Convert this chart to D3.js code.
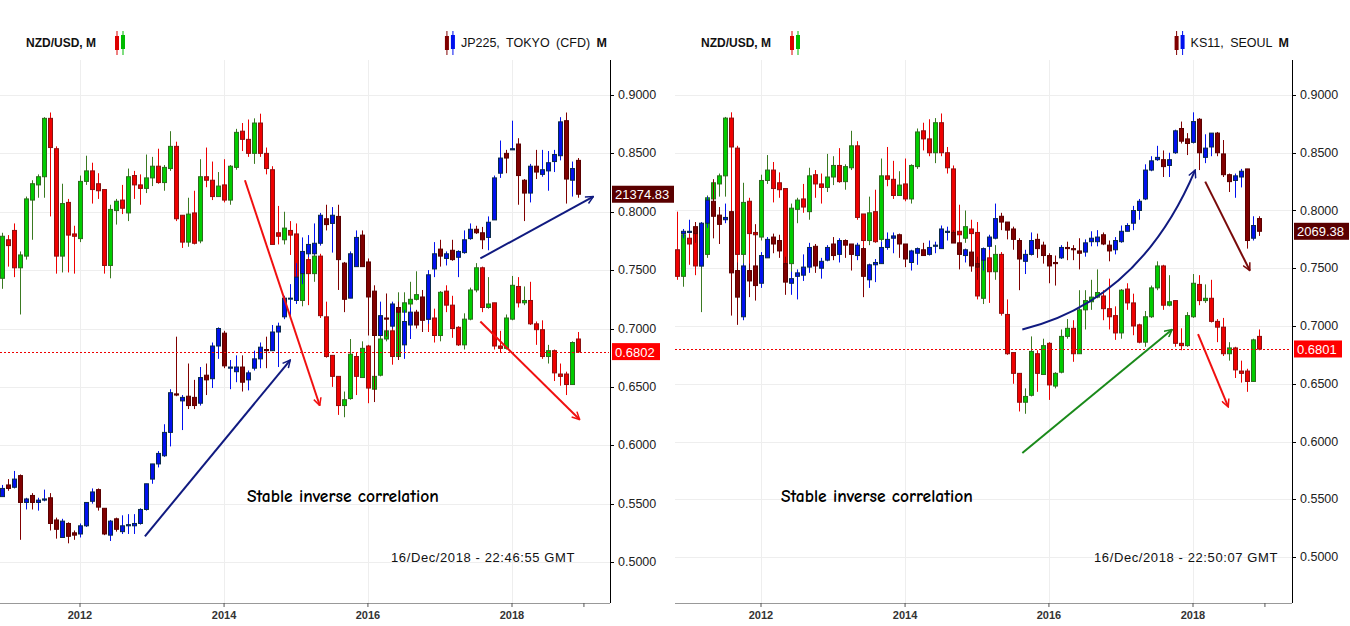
<!DOCTYPE html>
<html><head><meta charset="utf-8">
<script src="https://cdn.jsdelivr.net/npm/d3@7"></script>
<style>body{margin:0;background:#fff}svg{display:block;font-family:"Liberation Sans",Arial,sans-serif}</style>
</head><body><svg id="c" width="1350" height="626"></svg>
<script>
// ---- data (monthly candles [open, high, low, close]) ----
const nzdStart = [2010, 10]; // Nov 2010
const nzdUsd = [
[.766,.799,.740,.743],[.743,.782,.734,.779],[.776,.780,.753,.771],[.784,.790,.744,.752],[.752,.766,.712,.763],
[.762,.813,.759,.811],[.810,.827,.776,.824],[.823,.832,.812,.830],[.830,.881,.812,.880],[.880,.885,.796,.855],
[.854,.856,.747,.762],[.762,.824,.748,.807],[.808,.811,.748,.780],[.781,.788,.747,.779],[.777,.831,.774,.826],
[.826,.848,.823,.835],[.835,.842,.807,.819],[.824,.833,.811,.818],[.819,.819,.747,.754],[.754,.806,.743,.802],
[.801,.811,.789,.809],[.810,.823,.798,.803],[.799,.837,.792,.830],[.831,.835,.811,.823],[.823,.832,.806,.820],
[.820,.849,.816,.829],[.829,.847,.822,.839],[.839,.854,.824,.825],[.825,.840,.818,.838],[.837,.869,.835,.856],
[.856,.860,.792,.794],[.797,.797,.769,.774],[.774,.812,.770,.798],[.799,.818,.772,.773],[.775,.845,.773,.830],
[.830,.855,.821,.827],[.827,.843,.810,.813],[.813,.834,.813,.822],[.823,.845,.808,.810],[.810,.840,.806,.839],
[.838,.871,.836,.868],[.869,.876,.852,.862],[.862,.879,.847,.850],[.850,.880,.841,.876],[.876,.884,.847,.850],
[.850,.855,.832,.837],[.836,.839,.772,.772],[.782,.805,.772,.779],[.776,.800,.772,.786],[.784,.792,.763,.780],
[.781,.790,.723,.726],[.724,.759,.719,.757],[.759,.771,.720,.747],[.747,.770,.740,.762],[.762,.764,.709,.711],
[.710,.723,.675,.676],[.677,.677,.650,.659],[.659,.659,.626,.634],[.634,.646,.624,.639],[.640,.691,.639,.678],
[.676,.679,.643,.659],[.658,.689,.658,.683],[.685,.686,.636,.649],[.648,.660,.646,.659],[.660,.697,.659,.691],
[.691,.706,.689,.698],[.698,.705,.669,.676],[.676,.731,.676,.714],[.714,.731,.697,.722],[.721,.740,.714,.725],
[.725,.749,.724,.729],[.726,.731,.705,.715],[.715,.741,.697,.708],[.709,.717,.688,.694],[.694,.732,.689,.731],
[.732,.737,.714,.720],[.720,.728,.692,.700],[.701,.702,.685,.686],[.686,.713,.682,.708],[.708,.735,.707,.733],
[.733,.756,.731,.752],[.752,.753,.714,.718],[.718,.744,.717,.721],[.722,.722,.682,.685],[.685,.698,.679,.683],
[.683,.712,.682,.709],[.708,.745,.707,.737],[.736,.744,.718,.722],[.722,.736,.720,.724],[.724,.740,.703,.704],
[.704,.706,.686,.699],[.699,.707,.674,.676],[.676,.686,.670,.681],[.681,.682,.655,.662],[.661,.670,.651,.659],
[.661,.663,.643,.652],[.652,.689,.652,.688],[.691,.697,.679,.680]];
// JP225 (Tokyo CFD), drawn in NZD/USD-equivalent units of the left chart
const jpStart = [2010, 11]; // Dec 2010
const jp225 = [
[.556,.566,.556,.563],[.566,.571,.561,.563],[.564,.578,.563,.571],[.574,.575,.519,.551],[.551,.555,.545,.554],
[.557,.559,.545,.551],[.551,.555,.544,.553],[.553,.562,.552,.554],[.555,.559,.527,.533],[.536,.538,.520,.528],
[.521,.537,.521,.535],[.533,.534,.516,.522],[.525,.527,.519,.523],[.524,.533,.521,.531],[.531,.551,.530,.551],
[.552,.563,.550,.560],[.562,.563,.544,.547],[.546,.546,.523,.524],[.523,.536,.518,.535],[.537,.538,.526,.528],
[.526,.540,.524,.531],[.531,.541,.524,.532],[.531,.541,.524,.533],[.533,.546,.532,.545],[.545,.567,.544,.567],
[.571,.584,.567,.584],[.584,.595,.581,.593],[.591,.618,.590,.611],[.611,.648,.599,.645],[.644,.693,.642,.643],
[.638,.643,.613,.641],[.642,.670,.631,.634],[.641,.656,.631,.634],[.636,.667,.634,.658],[.660,.670,.643,.656],
[.657,.688,.649,.685],[.685,.701,.674,.700],[.696,.698,.666,.668],[.666,.673,.648,.667],[.663,.677,.654,.667],
[.667,.677,.646,.654],[.656,.664,.647,.662],[.666,.681,.664,.674],[.674,.688,.666,.684],[.682,.693,.666,.681],
[.681,.703,.681,.697],[.697,.705,.667,.702],[.710,.728,.708,.726],[.726,.738,.710,.726],[.724,.756,.721,.744],
[.747,.778,.738,.766],[.764,.780,.761,.772],[.764,.790,.763,.773],[.773,.799,.771,.797],[.794,.806,.784,.789],
[.790,.804,.765,.797],[.796,.806,.733,.759],[.756,.757,.714,.725],[.726,.766,.726,.764],[.753,.784,.753,.778],
[.780,.784,.753,.753],[.757,.760,.694,.727],[.732,.737,.637,.694],[.694,.723,.693,.711],[.709,.730,.693,.708],
[.702,.723,.700,.721],[.718,.723,.673,.714],[.686,.716,.674,.706],[.703,.718,.691,.714],[.714,.716,.700,.703],
[.727,.733,.697,.707],[.708,.750,.704,.746],[.751,.774,.744,.764],[.768,.776,.753,.762],[.760,.766,.754,.764],
[.767,.776,.758,.759],[.761,.767,.744,.766],[.765,.784,.764,.776],[.777,.790,.776,.785],[.785,.788,.781,.782],
[.782,.787,.768,.776],[.778,.796,.767,.791],[.793,.831,.793,.829],[.833,.861,.829,.846],[.850,.853,.833,.846],
[.853,.878,.853,.854],[.858,.863,.806,.831],[.827,.828,.792,.816],[.816,.841,.808,.839],[.839,.853,.828,.834],
[.832,.853,.830,.836],[.835,.852,.818,.842],[.843,.853,.834,.849],[.848,.881,.844,.877],[.878,.885,.807,.828],
[.827,.843,.813,.837],[.844,.846,.812,.815]];
// KS11 (Seoul), drawn in NZD/USD-equivalent units of the right chart
const ksStart = [2010, 11]; // Dec 2010
const ks11 = [
[.780,.784,.776,.782],[.781,.792,.780,.782],[.786,.790,.772,.780],[.752,.790,.751,.789],[.789,.812,.785,.809],
[.808,.827,.776,.795],[.796,.803,.771,.788],[.792,.806,.789,.794],[.799,.800,.709,.746],[.748,.755,.701,.725],
[.708,.754,.705,.752],[.748,.754,.725,.739],[.752,.788,.722,.735],[.737,.764,.733,.761],[.759,.777,.759,.775],
[.777,.780,.763,.771],[.774,.779,.759,.765],[.754,.760,.727,.738],[.737,.747,.727,.741],[.743,.749,.723,.746],
[.744,.762,.739,.751],[.751,.772,.746,.768],[.769,.771,.746,.752],[.750,.759,.741,.756],[.757,.770,.756,.768],
[.771,.777,.757,.761],[.762,.776,.755,.774],[.774,.775,.759,.770],[.771,.771,.748,.762],[.761,.772,.757,.770],
[.767,.769,.725,.743],[.740,.754,.733,.753],[.753,.758,.738,.755],[.754,.773,.754,.768],[.768,.781,.766,.775],
[.776,.781,.763,.778],[.779,.780,.759,.771],[.771,.771,.751,.758],[.755,.766,.748,.765],[.763,.768,.753,.767],
[.766,.772,.761,.761],[.762,.774,.761,.768],[.769,.773,.763,.770],[.767,.787,.767,.784],[.781,.786,.774,.782],
[.781,.783,.772,.772],[.772,.773,.749,.762],[.761,.767,.755,.766],[.764,.766,.747,.752],[.754,.760,.740,.751],
[.757,.768,.748,.767],[.769,.779,.766,.777],[.776,.806,.775,.793],[.795,.798,.783,.790],[.790,.790,.775,.783],
[.784,.786,.766,.775],[.774,.776,.731,.758],[.756,.766,.745,.762],[.762,.781,.761,.774],[.775,.780,.759,.767],
[.770,.773,.754,.761],[.761,.763,.737,.752],[.755,.761,.735,.754],[.759,.770,.758,.768],[.768,.773,.757,.767],
[.767,.770,.757,.766],[.765,.776,.749,.763],[.764,.775,.760,.772],[.773,.782,.769,.776],[.773,.783,.769,.777],
[.779,.781,.770,.771],[.770,.774,.756,.765],[.766,.777,.762,.774],[.773,.787,.772,.782],[.782,.789,.782,.787],
[.789,.804,.783,.800],[.800,.810,.792,.808],[.810,.840,.809,.835],[.835,.847,.834,.843],[.844,.856,.843,.846],
[.844,.852,.829,.838],[.839,.850,.829,.844],[.850,.870,.849,.869],[.871,.877,.858,.860],[.862,.867,.848,.858],
[.859,.885,.858,.877],[.879,.880,.835,.850],[.846,.866,.841,.854],[.855,.867,.847,.867],[.867,.868,.847,.850],
[.849,.861,.829,.831],[.831,.832,.816,.825],[.826,.832,.811,.830],[.829,.836,.820,.834],[.836,.836,.767,.774],
[.776,.795,.774,.787],[.793,.795,.778,.782]];
const yTicks = [0.5, 0.55, 0.6, 0.65, 0.7, 0.75, 0.8, 0.85, 0.9];
const xTickYears = [2012, 2014, 2016, 2018];
const panels = [
  {title:"NZD/USD, M", overlayName:"JP225, TOKYO (CFD)", overlay:jp225, ovStart:jpStart, lastOv:"21374.83", lastMain:"0.6802", mainLast:0.6802,
   stamp:"16/Dec/2018 - 22:46:55 GMT", stampX:575, left:0, right:610, xr:[80,512], yr:[562,95]},
  {title:"NZD/USD, M", overlayName:"KS11, SEOUL", overlay:ks11, ovStart:ksStart, lastOv:"2069.38", lastMain:"0.6801", mainLast:0.6801,
   stamp:"16/Dec/2018 - 22:50:07 GMT", stampX:1278, left:675, right:1292, xr:[761,1193], yr:[557,95]}
];

const svg = d3.select("#c");
const defs = svg.append("defs");
function marker(id, col){
  defs.append("marker").attr("id",id).attr("viewBox","0 0 12 12").attr("refX",11).attr("refY",6)
    .attr("markerWidth",9).attr("markerHeight",9).attr("orient","auto").attr("markerUnits","userSpaceOnUse")
    .append("path").attr("d","M1,1 L11,6 L1,11").attr("fill","none").attr("stroke",col).attr("stroke-width",2);
}
marker("mRed","#f01010"); marker("mNavy","#101a80"); marker("mGreen","#1a8a1a"); marker("mDark","#7a0a0a");
const fy = f => { const yy=Math.floor(f); const a=new Date(yy,0,1), b=new Date(yy+1,0,1); return new Date(+a + (f-yy)*(b-a)); };
const plotTop=60, plotBottom=603;

function candles(g, data, start, x, y, up, down){
  const gg = g.append("g");
  data.forEach((d,i)=>{
    const dt = new Date(start[0], start[1]+i, 1);
    const cx = Math.round(x(dt))+0.5;
    const [o,h,l,c] = d; const isUp = c>=o; const s = isUp?up:down;
    gg.append("line").attr("x1",cx).attr("x2",cx).attr("y1",y(h)).attr("y2",y(l)).attr("stroke",s.wick).attr("stroke-width",1);
    const y0=y(Math.max(o,c)), y1=y(Math.min(o,c));
    gg.append("rect").attr("x",cx-2).attr("y",y0).attr("width",4).attr("height",Math.max(1,y1-y0))
      .attr("fill",s.fill).attr("stroke",s.stroke).attr("stroke-width",1);
  });
}
const nzdUp={fill:"#00cc00",stroke:"#2d6a1e",wick:"#3b7a22"}, nzdDown={fill:"#ee0000",stroke:"#8a1010",wick:"#ee0000"};
const ovUp={fill:"#0010ee",stroke:"#0a2a4a",wick:"#0010ee"}, ovDown={fill:"#800000",stroke:"#5a0000",wick:"#800000"};

panels.forEach((p,pi)=>{
  const x = d3.scaleTime().domain([new Date(2012,0,1), new Date(2018,0,1)]).range(p.xr);
  const y = d3.scaleLinear().domain([0.5,0.9]).range(p.yr);
  const g = svg.append("g");
  const cid="clip"+pi;
  defs.append("clipPath").attr("id",cid).append("rect").attr("x",p.left).attr("y",plotTop).attr("width",p.right-p.left-1).attr("height",plotBottom-plotTop);
  yTicks.forEach(t=>g.append("line").attr("x1",p.left).attr("x2",p.right).attr("y1",Math.round(y(t))+0.5).attr("y2",Math.round(y(t))+0.5).attr("stroke","#eeeeee"));
  xTickYears.forEach(t=>{const xx=Math.round(x(new Date(t,0,1)))+0.5; g.append("line").attr("x1",xx).attr("x2",xx).attr("y1",plotTop).attr("y2",plotBottom).attr("stroke","#eeeeee");});
  const pg = g.append("g").attr("clip-path",`url(#${cid})`);
  candles(pg, nzdUsd, nzdStart, x, y, nzdUp, nzdDown);
  candles(pg, p.overlay, p.ovStart, x, y, ovUp, ovDown);
  pg.append("line").attr("x1",p.left).attr("x2",p.right).attr("y1",Math.round(y(p.mainLast))+0.5).attr("y2",Math.round(y(p.mainLast))+0.5)
    .attr("stroke","#e00").attr("stroke-dasharray","2,2");
  g.append("line").attr("x1",p.right+0.5).attr("x2",p.right+0.5).attr("y1",plotTop).attr("y2",plotBottom).attr("stroke","#000");
  g.append("line").attr("x1",p.left).attr("x2",p.right).attr("y1",plotBottom+0.5).attr("y2",plotBottom+0.5).attr("stroke","#999");
  yTicks.forEach(t=>{
    g.append("line").attr("x1",p.right).attr("x2",p.right+4).attr("y1",Math.round(y(t))+0.5).attr("y2",Math.round(y(t))+0.5).attr("stroke","#000");
    g.append("text").attr("x",p.right+8).attr("y",y(t)+4).attr("font-size",12.5).attr("fill","#222").text(t.toFixed(4));
  });
  xTickYears.forEach(t=>{
    const xx=x(new Date(t,0,1));
    g.append("line").attr("x1",xx).attr("x2",xx).attr("y1",plotBottom).attr("y2",plotBottom+4).attr("stroke","#555");
    g.append("text").attr("x",xx).attr("y",619).attr("text-anchor","middle").attr("font-size",11).attr("font-weight","bold").attr("fill","#333").text(t);
  });
  const x19=x(new Date(2019,0,1));
  g.append("line").attr("x1",x19).attr("x2",x19).attr("y1",plotBottom).attr("y2",plotBottom+4).attr("stroke","#555");
  const lastOvVal = p.overlay[p.overlay.length-1][3];
  [[lastOvVal,p.lastOv,"#5a0000"],[p.mainLast,p.lastMain,"#ff0000"]].forEach(([v,txt,col])=>{
    const w = txt.length*7+6;
    g.append("rect").attr("x",p.right+2).attr("y",y(v)-8.5).attr("width",w).attr("height",17).attr("fill",col);
    g.append("text").attr("x",p.right+5).attr("y",y(v)+5).attr("font-size",13).attr("fill","#fff").text(txt);
  });
  const tx = p.left+26;
  g.append("text").attr("x",tx).attr("y",47).attr("font-size",12).attr("font-weight","bold").attr("fill","#111").text(p.title);
  function icon(ix, cols){
    g.append("line").attr("x1",ix+2).attr("x2",ix+2).attr("y1",31).attr("y2",55).attr("stroke",cols[0]);
    g.append("rect").attr("x",ix).attr("y",36).attr("width",4).attr("height",14).attr("fill",cols[0]);
    g.append("line").attr("x1",ix+8).attr("x2",ix+8).attr("y1",31).attr("y2",55).attr("stroke",cols[1]);
    g.append("rect").attr("x",ix+6).attr("y",35).attr("width",4).attr("height",14).attr("fill",cols[1]);
  }
  icon(tx+89, ["#dd0000","#00bb00"]);
  const lt = g.append("text").attr("x",p.right-3).attr("y",47).attr("text-anchor","end").attr("font-size",12.5).attr("word-spacing",3).attr("fill","#111");
  lt.append("tspan").text(p.overlayName+"  ");
  lt.append("tspan").attr("font-weight","bold").text("M");
  const lw = lt.node().getBBox().width;
  icon(p.right-3-lw-16, ["#800000","#0010ee"]);
  g.append("text").attr("x",(pi===0?247:781)).attr("y",502).attr("font-size",17.5).attr("font-weight","bold").attr("font-family","'Comic Sans MS','Comic Neue',cursive,'DejaVu Sans'").attr("fill","#000").text("Stable inverse correlation");
  g.append("text").attr("x",p.stampX).attr("y",562).attr("text-anchor","end").attr("font-size",13).attr("letter-spacing",0.6).attr("fill","#111").text(p.stamp);
  const P = (f,v)=>[x(fy(f)), y(v)];
  function arrow(a,b,col,mk){ g.append("line").attr("x1",a[0]).attr("y1",a[1]).attr("x2",b[0]).attr("y2",b[1]).attr("stroke",col).attr("stroke-width",2).attr("marker-end",`url(#${mk})`); }
  if(pi===0){
    arrow(P(2014.29,.827),P(2015.33,.634),"#f01010","mRed");
    arrow(P(2012.9,.522),P(2014.92,.673),"#101a80","mNavy");
    arrow(P(2017.56,.760),P(2019.13,.813),"#101a80","mNavy");
    arrow(P(2017.56,.706),P(2018.94,.622),"#f01010","mRed");
  } else {
    const a=P(2015.63,.697), c=P(2017.26,.722), b=P(2018.03,.835);
    g.append("path").attr("d",`M${a}Q${c} ${b}`).attr("fill","none").attr("stroke","#101a80").attr("stroke-width",2).attr("marker-end","url(#mNavy)");
    arrow(P(2018.17,.825),P(2018.79,.748),"#7a0a0a","mDark");
    arrow(P(2015.63,.590),P(2017.71,.697),"#1a8a1a","mGreen");
    arrow(P(2018.07,.693),P(2018.49,.630),"#f01010","mRed");
  }
});
</script></body></html>
